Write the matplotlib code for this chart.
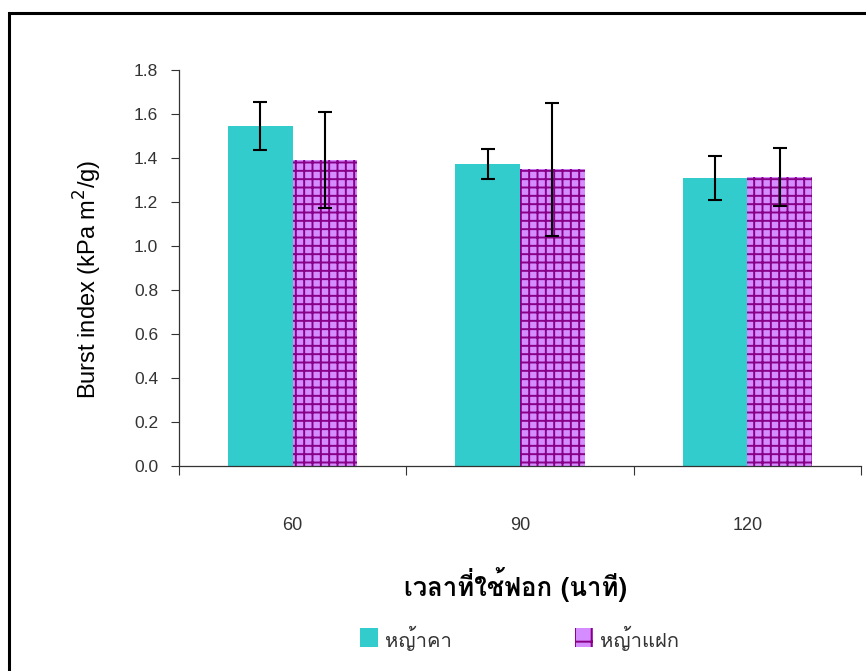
import matplotlib
matplotlib.use("Agg")
import matplotlib.pyplot as plt
from matplotlib import font_manager
from matplotlib.ft2font import FT2Font
from matplotlib.patches import Rectangle
import numpy as np

# data
times = ["60", "90", "120"]
series_names = ["หญ้าคา", "หญ้าแฝก"]
kha_vals = [1.545, 1.373, 1.307]
kha_err = [0.108, 0.068, 0.100]
faek_vals = [1.390, 1.349, 1.313]
faek_err = [0.218, 0.303, 0.132]
yticks = [0.0, 0.2, 0.4, 0.6, 0.8, 1.0, 1.2, 1.4, 1.6, 1.8]


def find_thai_font():
    # look for any installed font that has Thai glyphs
    for f in font_manager.fontManager.ttflist:
        try:
            cmap = FT2Font(f.fname).get_charmap()
        except Exception:
            continue
        if 0x0E27 in cmap and 0x0E32 in cmap:
            return f.name
    return None


thai = find_thai_font()
fams = [thai, "Liberation Sans", "DejaVu Sans"] if thai else ["Liberation Sans", "DejaVu Sans"]

plt.rcParams["font.family"] = ["Liberation Sans", "DejaVu Sans"]
plt.rcParams["hatch.linewidth"] = 1.4
plt.rcParams["hatch.color"] = "#880088"

fig = plt.figure(figsize=(8.66, 6.71), dpi=100)
ax = fig.add_axes([179 / 866, 1 - 466 / 671, (861 - 179) / 866, (466 - 70) / 671])

x = np.arange(len(times))
w = 0.285
ax.bar(x - w / 2, kha_vals, w, color="#33CCCC", edgecolor="none", zorder=2)
ax.bar(x + w / 2, faek_vals, w, color="#D58CFF", edgecolor="#880088",
       linewidth=0, hatch="++", zorder=2)
ax.errorbar(x - w / 2, kha_vals, yerr=kha_err, fmt="none", ecolor="black",
            elinewidth=1.5, capsize=5, capthick=1.5, zorder=3)
ax.errorbar(x + w / 2, faek_vals, yerr=faek_err, fmt="none", ecolor="black",
            elinewidth=1.5, capsize=5, capthick=1.5, zorder=3)

ax.set_xlim(-0.5, len(times) - 0.5)
ax.set_ylim(0, 1.8)
ax.set_yticks(yticks)
ax.set_yticklabels([f"{v:.1f}" for v in yticks], fontsize=12.5, color="#333333")
ax.tick_params(axis="y", direction="out", length=6, width=0.8, color="#333333", pad=9)

# category boundary ticks, labels in the middle
ax.set_xticks(np.arange(len(times) + 1) - 0.5)
ax.set_xticklabels([])
ax.set_xticks(x, minor=True)
ax.set_xticklabels(times, minor=True, fontsize=13, color="#333333")
ax.tick_params(axis="x", which="major", direction="out", length=6.5, width=0.8, color="#333333")
ax.tick_params(axis="x", which="minor", length=0, pad=37)

for s in ["top", "right"]:
    ax.spines[s].set_visible(False)
for s in ["left", "bottom"]:
    ax.spines[s].set_color("#333333")
    ax.spines[s].set_linewidth(0.9)

fig.text(88 / 866, 1 - 279 / 671, "Burst index (kPa m$^{2}$/g)", rotation=90,
         ha="center", va="center", fontsize=17)
fig.text(515 / 866, 1 - 585 / 671, "เวลาที่ใช้ฟอก (นาที)", ha="center", va="center",
         fontsize=18.5, fontweight="bold", family=fams)

# legend
fig.patches.append(Rectangle((360 / 866, 1 - 647 / 671), 18 / 866, 19 / 671,
                             transform=fig.transFigure, facecolor="#33CCCC",
                             edgecolor="none", figure=fig))
fig.patches.append(Rectangle((575 / 866, 1 - 647 / 671), 18 / 866, 19 / 671,
                             transform=fig.transFigure, facecolor="#D58CFF",
                             edgecolor="#880088", linewidth=0, hatch="+",
                             figure=fig))
fig.text(385 / 866, 1 - 638 / 671, series_names[0], ha="left", va="center",
         fontsize=14.5, color="#333333", family=fams)
fig.text(600 / 866, 1 - 638 / 671, series_names[1], ha="left", va="center",
         fontsize=14.5, color="#333333", family=fams)

# outer frame
fig.patches.append(Rectangle((9 / 866, -0.05), 1.0, 1 - 13 / 671 + 0.05,
                             transform=fig.transFigure, facecolor="none",
                             edgecolor="black", linewidth=2.2, figure=fig))

fig.savefig("out.png", dpi=100)
